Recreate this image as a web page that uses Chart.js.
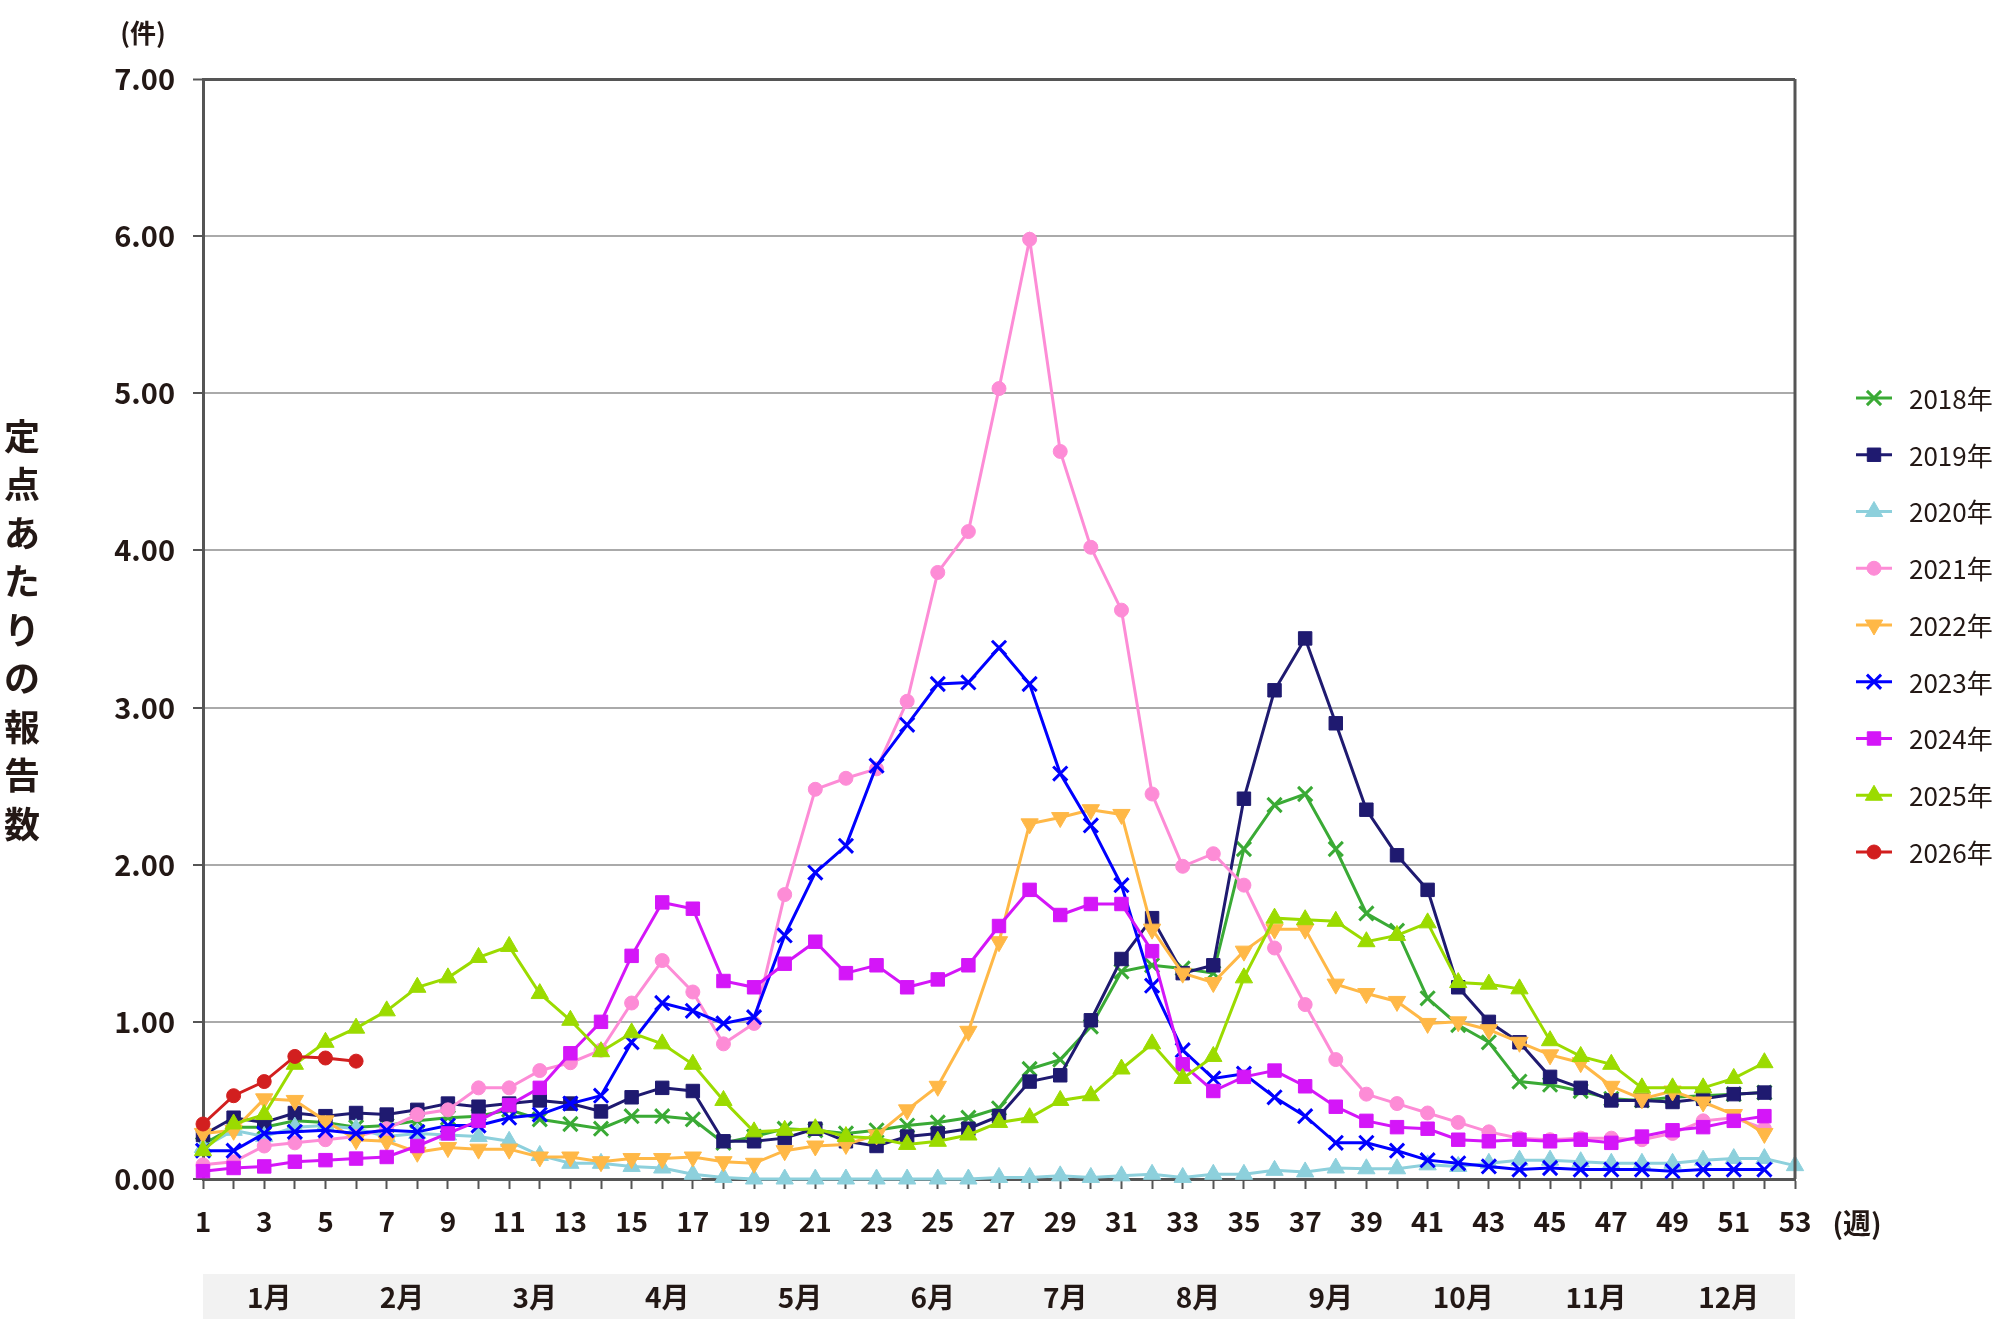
<!DOCTYPE html>
<html>
<head>
<meta charset="utf-8">
<script src="https://cdn.jsdelivr.net/npm/chart.js@4/dist/chart.umd.min.js"></script>
<style>
  body { margin: 0; background: #fff; }
  canvas { display: block; }
</style>
</head>
<body>
<canvas id="weekly-chart" width="2000" height="1339"></canvas>
<script>
const weeks = [1, 2, 3, 4, 5, 6, 7, 8, 9, 10, 11, 12, 13, 14, 15, 16, 17, 18, 19, 20,
    21, 22, 23, 24, 25, 26, 27, 28, 29, 30, 31, 32, 33, 34, 35, 36, 37, 38, 39, 40,
    41, 42, 43, 44, 45, 46, 47, 48, 49, 50, 51, 52, 53];
const months = ["1月", "2月", "3月", "4月", "5月", "6月", "7月", "8月", "9月", "10月", "11月", "12月"];
const yTicks = [0, 1, 2, 3, 4, 5, 6, 7];

const y2018 = [0.22, 0.33, 0.33, 0.37, 0.36, 0.33, 0.34, 0.37, 0.39, 0.40, 0.44, 0.38, 0.35, 0.32, 0.40, 0.40, 0.38, 0.23, 0.27, 0.32,
    0.31, 0.29, 0.31, 0.34, 0.36, 0.39, 0.45, 0.70, 0.76, 0.97, 1.32, 1.36, 1.34, 1.31, 2.10, 2.38, 2.45, 2.10, 1.69, 1.58,
    1.15, 0.98, 0.87, 0.62, 0.60, 0.56, 0.51, 0.50, 0.52, 0.53, 0.54, 0.55];
const y2019 = [0.28, 0.39, 0.36, 0.42, 0.40, 0.42, 0.41, 0.44, 0.48, 0.46, 0.48, 0.50, 0.48, 0.43, 0.52, 0.58, 0.56, 0.24, 0.24, 0.26,
    0.32, 0.24, 0.21, 0.27, 0.29, 0.32, 0.40, 0.62, 0.66, 1.01, 1.40, 1.66, 1.31, 1.36, 2.42, 3.11, 3.44, 2.90, 2.35, 2.06,
    1.84, 1.22, 1.00, 0.87, 0.65, 0.58, 0.50, 0.50, 0.49, 0.51, 0.54, 0.55];
const y2020 = [0.20, 0.31, 0.27, 0.33, 0.34, 0.32, 0.27, 0.29, 0.28, 0.27, 0.24, 0.15, 0.10, 0.10, 0.08, 0.07, 0.03, 0.01, 0.00, 0.00,
    0.00, 0.00, 0.00, 0.00, 0.00, 0.00, 0.01, 0.01, 0.02, 0.01, 0.02, 0.03, 0.01, 0.03, 0.03, 0.055, 0.045, 0.07, 0.065, 0.065,
    0.09, 0.08, 0.10, 0.12, 0.12, 0.11, 0.10, 0.10, 0.10, 0.12, 0.13, 0.13, 0.085];
const y2021 = [0.09, 0.11, 0.21, 0.23, 0.25, 0.27, 0.32, 0.41, 0.44, 0.58, 0.58, 0.69, 0.74, 0.82, 1.12, 1.39, 1.19, 0.86, 0.99, 1.81,
    2.48, 2.55, 2.61, 3.04, 3.86, 4.12, 5.03, 5.98, 4.63, 4.02, 3.62, 2.45, 1.99, 2.07, 1.87, 1.47, 1.11, 0.76, 0.54, 0.48,
    0.42, 0.36, 0.30, 0.26, 0.25, 0.26, 0.26, 0.25, 0.29, 0.37, 0.39, 0.32];
const y2022 = [0.29, 0.31, 0.51, 0.50, 0.37, 0.25, 0.24, 0.17, 0.20, 0.19, 0.19, 0.14, 0.14, 0.11, 0.13, 0.13, 0.14, 0.11, 0.10, 0.18,
    0.21, 0.22, 0.28, 0.44, 0.59, 0.94, 1.51, 2.26, 2.30, 2.35, 2.32, 1.59, 1.31, 1.25, 1.45, 1.59, 1.59, 1.24, 1.18, 1.13,
    0.99, 1.00, 0.95, 0.87, 0.79, 0.74, 0.59, 0.51, 0.56, 0.49, 0.41, 0.29];
const y2023 = [0.18, 0.18, 0.29, 0.30, 0.31, 0.29, 0.31, 0.30, 0.34, 0.34, 0.39, 0.41, 0.48, 0.53, 0.87, 1.12, 1.07, 0.99, 1.03, 1.55,
    1.95, 2.12, 2.63, 2.89, 3.15, 3.16, 3.38, 3.15, 2.58, 2.25, 1.87, 1.23, 0.82, 0.64, 0.67, 0.52, 0.40, 0.23, 0.23, 0.18,
    0.12, 0.10, 0.08, 0.06, 0.07, 0.06, 0.06, 0.06, 0.05, 0.06, 0.06, 0.06];
const y2024 = [0.05, 0.07, 0.08, 0.11, 0.12, 0.13, 0.14, 0.21, 0.29, 0.37, 0.47, 0.58, 0.80, 1.00, 1.42, 1.76, 1.72, 1.26, 1.22, 1.37,
    1.51, 1.31, 1.36, 1.22, 1.27, 1.36, 1.61, 1.84, 1.68, 1.75, 1.75, 1.45, 0.73, 0.56, 0.65, 0.69, 0.59, 0.46, 0.37, 0.33,
    0.32, 0.25, 0.24, 0.25, 0.24, 0.25, 0.23, 0.27, 0.31, 0.33, 0.37, 0.40];
const y2025 = [0.18, 0.35, 0.41, 0.73, 0.87, 0.96, 1.07, 1.22, 1.28, 1.41, 1.48, 1.18, 1.01, 0.81, 0.93, 0.86, 0.73, 0.50, 0.30, 0.31,
    0.32, 0.27, 0.26, 0.22, 0.24, 0.28, 0.36, 0.39, 0.50, 0.53, 0.70, 0.86, 0.64, 0.78, 1.28, 1.66, 1.65, 1.64, 1.51, 1.55,
    1.63, 1.25, 1.24, 1.21, 0.88, 0.78, 0.73, 0.58, 0.58, 0.58, 0.64, 0.74];
const y2026 = [0.35, 0.53, 0.62, 0.78, 0.77, 0.75];

const textColor = "#231815";
const axisColor = "#555555";
const fontFamily = '"Noto Sans CJK JP", "Noto Sans", sans-serif';

// year, values, colour, point style
const seriesList = [
    ["2018年", y2018, "#3aaa35", "crossRot"],
    ["2019年", y2019, "#1f1a70", "rect"],
    ["2020年", y2020, "#8dd0dc", "triangle"],
    ["2021年", y2021, "#fd8cd6", "circle"],
    ["2022年", y2022, "#ffb847", "triangleDown"],
    ["2023年", y2023, "#0000ff", "crossRot"],
    ["2024年", y2024, "#d416f8", "rect"],
    ["2025年", y2025, "#9bdb00", "triangle"],
    ["2026年", y2026, "#d21f1f", "circle"],
];

function pointRadius(style) {
    if (style === "crossRot") return 10;
    if (style === "rect") return 9.5;
    if (style === "triangle" || style === "triangleDown") return 10;
    return 7;
}

const datasets = seriesList.map((s, i) => {
    const style = s[3] === "triangleDown" ? "triangle" : s[3];
    return {
        label: s[0],
        data: s[1],
        borderColor: s[2],
        backgroundColor: s[2],
        borderWidth: 3,
        pointStyle: style,
        pointRotation: s[3] === "triangleDown" ? 180 : 0,
        pointRadius: pointRadius(s[3]),
        pointBorderWidth: s[3] === "crossRot" ? 3 : 1,
        pointBackgroundColor: s[2],
        pointBorderColor: s[2],
        tension: 0,
        clip: false,
        order: seriesList.length - i,
    };
});

function drawMarker(ctx, style, x, y, color) {
    const radius = pointRadius(style);
    const opts = {
        pointStyle: style === "triangleDown" ? "triangle" : style,
        rotation: style === "triangleDown" ? 180 : 0,
        radius: radius,
        borderWidth: style === "crossRot" ? 3 : 1,
    };
    ctx.fillStyle = color;
    ctx.strokeStyle = color;
    ctx.lineWidth = opts.borderWidth;
    Chart.helpers.drawPoint(ctx, opts, x, y);
}

const extrasPlugin = {
    id: "extras",
    afterDraw(chart) {
        const ctx = chart.ctx;
        const area = chart.chartArea;
        ctx.save();

        // right frame
        ctx.strokeStyle = axisColor;
        ctx.lineWidth = 3;
        ctx.beginPath();
        ctx.moveTo(area.right, area.top);
        ctx.lineTo(area.right, area.bottom);
        ctx.stroke();

        // unit labels
        ctx.fillStyle = textColor;
        ctx.font = "bold 26px " + fontFamily;
        ctx.textAlign = "center";
        ctx.textBaseline = "middle";
        ctx.fillText("(件)", 143, 33);
        ctx.font = "bold 28px " + fontFamily;
        ctx.fillText("(週)", 1857, 1223);

        // vertical title
        const title = "定点あたりの報告数";
        ctx.font = "bold 36px " + fontFamily;
        for (let i = 0; i < title.length; i++) {
            ctx.fillText(title[i], 22, 436 + i * 48.5);
        }

        // month band
        ctx.fillStyle = "#f2f2f2";
        ctx.fillRect(area.left, 1274, area.right - area.left, 45);
        ctx.fillStyle = textColor;
        ctx.font = "bold 28px " + fontFamily;
        const monthWidth = (area.right - area.left) / months.length;
        months.forEach((m, i) => {
            ctx.fillText(m, area.left + monthWidth * (i + 0.5), 1297);
        });

        // legend
        ctx.textAlign = "left";
        ctx.font = "26px " + fontFamily;
        seriesList.forEach((s, i) => {
            const y = 398 + i * 56.75;
            ctx.strokeStyle = s[2];
            ctx.lineWidth = 3;
            ctx.beginPath();
            ctx.moveTo(1856, y);
            ctx.lineTo(1892, y);
            ctx.stroke();
            drawMarker(ctx, s[3], 1874, y, s[2]);
            ctx.fillStyle = textColor;
            ctx.fillText(s[0], 1909, y + 1);
        });
        ctx.restore();
    }
};

Chart.defaults.font.family = fontFamily;

new Chart(document.getElementById("weekly-chart"), {
    type: "line",
    data: {
        labels: weeks,
        datasets: datasets,
    },
    options: {
        responsive: false,
        animation: false,
        devicePixelRatio: 1,
        layout: {
            padding: { top: 79, right: 205, left: 0, bottom: 0 }
        },
        plugins: {
            legend: { display: false },
            tooltip: { enabled: false },
            title: { display: false },
        },
        scales: {
            x: {
                type: "category",
                offset: false,
                afterFit: scale => { scale.height = 160; },
                grid: {
                    offset: false,
                    drawOnChartArea: false,
                    drawTicks: true,
                    tickLength: 10,
                    tickColor: axisColor,
                    tickWidth: 2,
                },
                border: { color: axisColor, width: 3 },
                ticks: {
                    autoSkip: false,
                    maxRotation: 0,
                    padding: 16,
                    color: textColor,
                    font: { size: 28, weight: "bold" },
                    callback: function (val, idx) {
                        return weeks[idx] % 2 === 1 ? String(weeks[idx]) : "";
                    }
                }
            },
            y: {
                min: yTicks[0],
                max: yTicks[yTicks.length - 1],
                afterFit: scale => { scale.width = 203; },
                afterBuildTicks: scale => {
                    scale.ticks = yTicks.map(v => ({ value: v }));
                },
                grid: {
                    color: ctx => ctx.tick && ctx.tick.value === 7 ? axisColor : "#aaaaaa",
                    lineWidth: ctx => ctx.tick && ctx.tick.value === 7 ? 3 : 2,
                    drawTicks: true,
                    tickLength: 10,
                    tickColor: axisColor,
                    tickWidth: 2,
                },
                border: { color: axisColor, width: 3 },
                ticks: {
                    padding: 18,
                    color: textColor,
                    font: { size: 29, weight: "bold" },
                    callback: v => Number(v).toFixed(2),
                }
            }
        }
    },
    plugins: [extrasPlugin]
});
</script>
</body>
</html>
